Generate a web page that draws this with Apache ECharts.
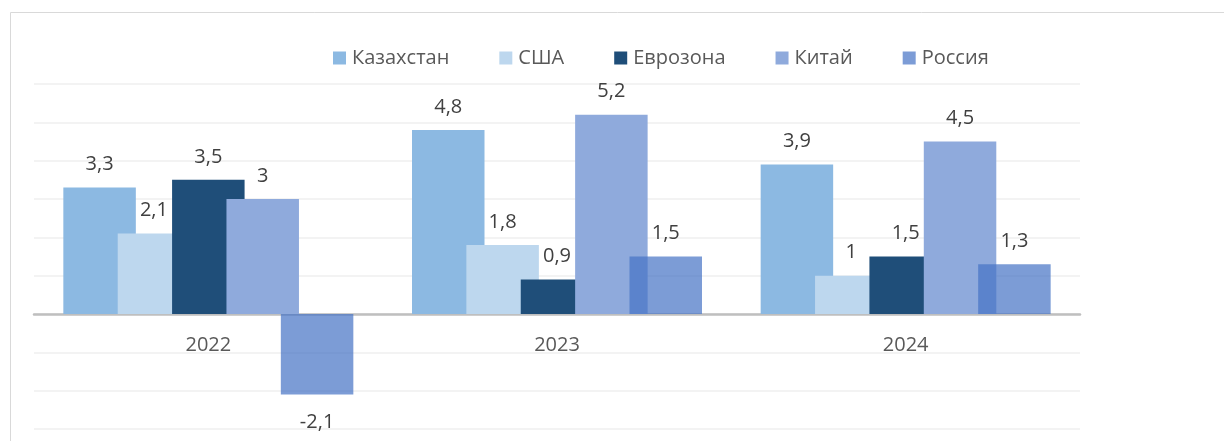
<!DOCTYPE html>
<html><head><meta charset="utf-8">
<script src="https://cdn.jsdelivr.net/npm/echarts@6/dist/echarts.min.js"></script>
<style>html,body{margin:0;padding:0;background:#fff;}#c{width:1224px;height:441px;}</style>
</head><body><div id="c"></div>
<script>
const categories = ['2022', '2023', '2024'];
const seriesNames = ['Казахстан', 'США', 'Еврозона', 'Китай', 'Россия'];
const kazakhstan = [3.3, 4.8, 3.9];
const usa = [2.1, 1.8, 1.0];
const eurozone = [3.5, 0.9, 1.5];
const china = [3.0, 5.2, 4.5];
const russia = [-2.1, 1.5, 1.3];
const values = [kazakhstan, usa, eurozone, china, russia];
const colors = ['#8CB9E2', '#BDD7EE', '#1F4E79', '#8FAADC', 'rgba(68,114,196,0.7)'];
const FONT = 'Open Sans';
const Y_MIN = -3, Y_MAX = 6;
const GRID_TOP = 84, GRID_BOTTOM = 12, H = 441;

const chart = echarts.init(document.getElementById('c'));
const fmt = p => String(p.value).replace('.', ',');
const unitPx = (H - GRID_TOP - GRID_BOTTOM) / (Y_MAX - Y_MIN);
const labelFor = v => v < 0 ? { value: v, label: { position: 'bottom', distance: 18 } } : v;
chart.setOption({
  animation: false,
  textStyle: { fontFamily: FONT },
  graphic: [{ type: 'rect', shape: { x: 10.5, y: 12.5, width: 1300, height: 500 }, style: { fill: 'none', stroke: '#D9D9D9', lineWidth: 1 }, z: -10 }],
  legend: {
    data: seriesNames, left: 328, top: 43, icon: 'rect', itemWidth: 13, itemHeight: 13, itemGap: 50,
    textStyle: { color: '#595959', fontSize: 20, fontFamily: FONT, padding: [0, 0, 0, 1] }
  },
  grid: { left: 34, right: 144, top: GRID_TOP, bottom: GRID_BOTTOM, containLabel: false, outerBoundsMode: 'none' },
  xAxis: {
    type: 'category', data: categories,
    offset: -(0 - Y_MIN) * unitPx,
    axisLine: { show: true, onZero: false, lineStyle: { color: '#BFBFBF', width: 2.5 } },
    axisTick: { show: false },
    axisLabel: { color: '#595959', fontSize: 20, margin: 21, fontFamily: FONT }
  },
  yAxis: {
    type: 'value', min: Y_MIN, max: Y_MAX, interval: 1,
    axisLabel: { show: false }, axisLine: { show: false }, axisTick: { show: false },
    splitLine: { lineStyle: { color: '#EFEFEF', width: 1.5 } }
  },
  series: seriesNames.map((n, i) => ({
    name: n, type: 'bar', data: values[i].map(labelFor), barWidth: 72.5, barGap: '-25%',
    itemStyle: { color: colors[i] },
    label: { show: true, position: 'top', distance: 13, color: '#404040', fontSize: 20, fontFamily: FONT, formatter: fmt }
  }))
});
</script></body></html>
